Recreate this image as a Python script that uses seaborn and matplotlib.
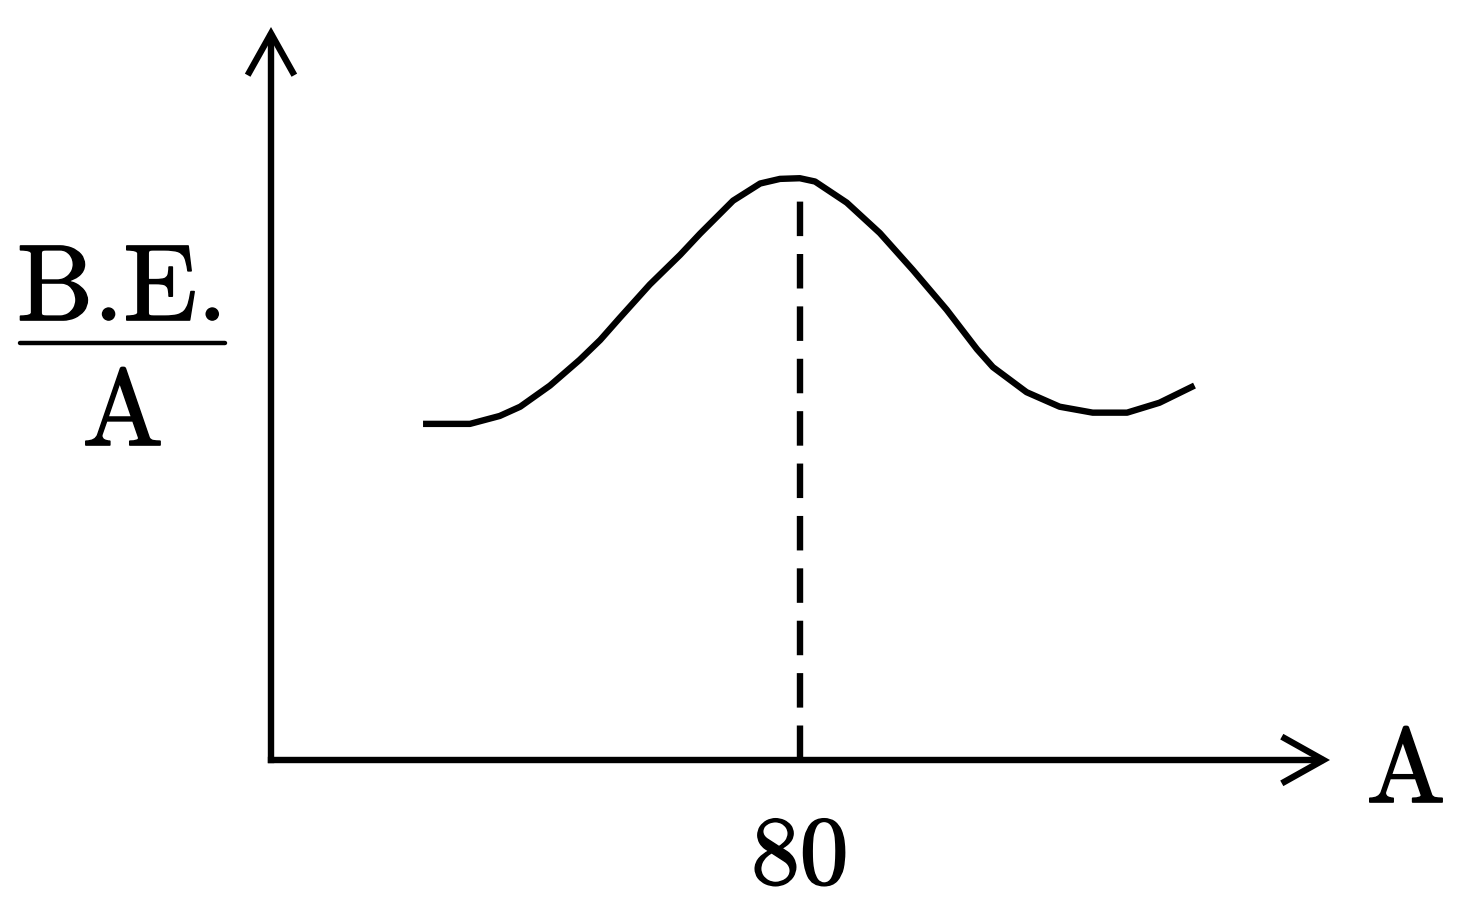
import numpy as np
import pandas as pd
import matplotlib.pyplot as plt
import matplotlib.patheffects as pe
import seaborn as sns
from matplotlib.lines import Line2D

sns.set_style("white", {"text.color": "black"})
plt.rcParams["font.family"] = ["cmr10", "DejaVu Serif"]
plt.rcParams["axes.unicode_minus"] = False

# mass number A and binding energy per nucleon (arbitrary units)
mass_number = [23.0, 30.1, 34.6, 37.7, 42.2, 46.7, 49.8, 52.8, 57.3, 61.9,
               64.9, 69.9, 74.0, 77.0, 80.0, 82.3, 87.1, 92.1, 97.1, 102.2,
               106.8, 109.2, 114.3, 119.3, 124.3, 129.5, 134.4, 139.7]
be_per_a = [5.09, 5.09, 5.21, 5.35, 5.67, 6.06, 6.36, 6.70, 7.20, 7.65,
            7.97, 8.47, 8.73, 8.80, 8.81, 8.76, 8.44, 7.98, 7.42, 6.82,
            6.22, 5.95, 5.57, 5.35, 5.26, 5.26, 5.41, 5.67]
peak_label = "80"

X_END = 160.2   # end of the A axis arrow
Y_END = 11.1    # end of the B.E./A axis arrow

df = pd.DataFrame({"A": mass_number, "BE": be_per_a})

W, H = 1466, 900
fig = plt.figure(figsize=(W / 100, H / 100), dpi=100)
ax = fig.add_axes([271 / W, (H - 760) / H, (1330 - 271) / W, (760 - 27) / H])

LW = 4.6
sns.lineplot(data=df, x="A", y="BE", ax=ax, color="black", linewidth=LW,
             sort=False, solid_capstyle="butt", solid_joinstyle="round")

# dashed drop line from the peak down to the A axis
i_peak = int(np.argmax(df["BE"]))
ax.vlines(df["A"][i_peak], 0, df["BE"][i_peak] - 0.15, colors="black",
          linewidth=LW, linestyles=(0, (5.4, 2.8)))

ax.set_xlim(0, X_END)
ax.set_ylim(0, Y_END)
for s in ax.spines.values():
    s.set_visible(False)
ax.set_xlabel("")
ax.set_ylabel("")
ax.set_yticks([])
ax.set_xticks([df["A"][i_peak]])
ax.set_xticklabels([peak_label], fontsize=70, color="black",
                   family=["cmr10", "DejaVu Serif"])
ax.tick_params(axis="x", length=0, pad=40)

# axes drawn as open arrows, starting a hair past the origin so the corner is closed
arrow = dict(arrowstyle="->,head_length=0.75,head_width=0.42", lw=LW,
             color="black", shrinkA=0, shrinkB=0, mutation_scale=40,
             joinstyle="miter", capstyle="butt")
ax.annotate("", xy=(X_END, 0), xytext=(-0.48, 0), xycoords="data",
            arrowprops=arrow, annotation_clip=False)
ax.annotate("", xy=(0, Y_END), xytext=(0, -0.048), xycoords="data",
            arrowprops=arrow, annotation_clip=False)

# slightly heavier glyphs, like the scanned original
bold = [pe.withStroke(linewidth=1.2, foreground="black")]
for t in ax.get_xticklabels():
    t.set_path_effects(bold)

# axis labels
fig.text(1406 / W, 1 - 802 / H, "A", fontsize=76, ha="center", va="baseline",
         path_effects=bold)
fig.text(122 / W, 1 - 320 / H, "B.E.", fontsize=78, ha="center", va="baseline",
         path_effects=bold)
fig.text(123 / W, 1 - 445 / H, "A", fontsize=78, ha="center", va="baseline",
         path_effects=bold)
fig.add_artist(Line2D([20 / W, 225 / W], [1 - 343 / H, 1 - 343 / H],
                      color="black", linewidth=3.2, transform=fig.transFigure))

fig.savefig("out.png", dpi=100, facecolor="white")
